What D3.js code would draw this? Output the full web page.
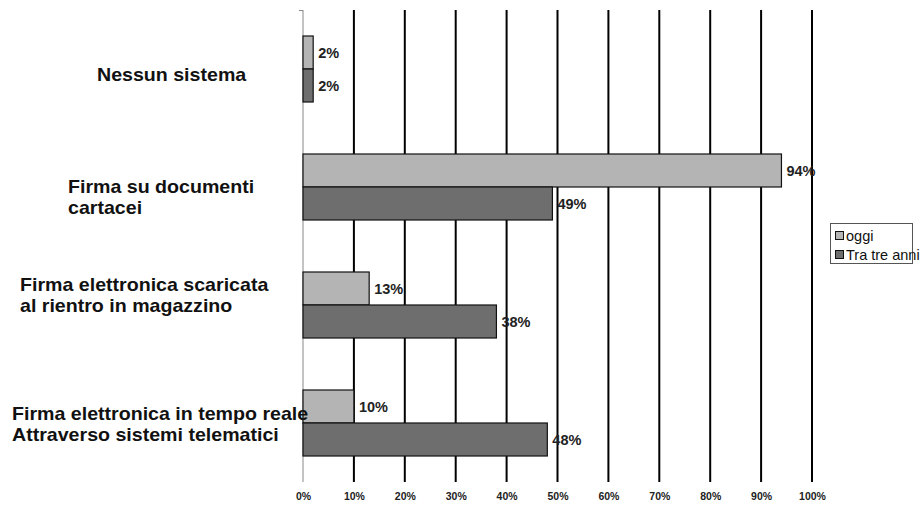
<!DOCTYPE html>
<html>
<head>
<meta charset="utf-8">
<script src="https://cdn.jsdelivr.net/npm/d3@7"></script>
<style>
  html, body { margin: 0; padding: 0; background: #fff; }
  svg { display: block; font-family: "Liberation Sans", Arial, sans-serif; }
</style>
</head>
<body>
<svg id="chart" width="923" height="506"></svg>
<script>
// Categories, top to bottom
const categories = [
  "Nessun sistema",
  "Firma su documenti cartacei",
  "Firma elettronica scaricata al rientro in magazzino",
  "Firma elettronica in tempo reale Attraverso sistemi telematici"
];
// Label lines as shown beside each group
const categoryLines = [
  ["Nessun sistema"],
  ["Firma su documenti", "cartacei"],
  ["Firma elettronica scaricata", "al rientro in magazzino"],
  ["Firma elettronica in tempo reale", "Attraverso sistemi telematici"]
];
const seriesNames = ["oggi", "Tra tre anni"];
const oggi = [2, 94, 13, 10];
const traTreAnni = [2, 49, 38, 48];
const tickValues = [0, 10, 20, 30, 40, 50, 60, 70, 80, 90, 100];

const colors = ["#b4b4b4", "#6e6e6e"];
const svg = d3.select("#chart");

const x = d3.scaleLinear().domain([0, 100]).range([303, 812]);
const y = d3.scaleBand().domain(categories).range([10, 482]).paddingInner(0).paddingOuter(0);
const inner = d3.scaleBand().domain(seriesNames).range([0, 66]);
const groupOffset = (y.bandwidth() - 66) / 2;

// Vertical gridlines
svg.append("g").selectAll("line")
  .data(tickValues.filter(d => d > 0))
  .join("line")
  .attr("x1", d => x(d)).attr("x2", d => x(d))
  .attr("y1", 10).attr("y2", 482)
  .attr("stroke", "#000").attr("stroke-width", 2);

// Category axis line
svg.append("line")
  .attr("x1", x(0)).attr("x2", x(0)).attr("y1", 10).attr("y2", 482)
  .attr("stroke", "#888").attr("stroke-width", 1);
svg.append("line")
  .attr("x1", x(0) - 4).attr("x2", x(0)).attr("y1", 10.5).attr("y2", 10.5)
  .attr("stroke", "#888").attr("stroke-width", 1);

// Bars
const rows = categories.map((c, i) => ({ cat: c, vals: [oggi[i], traTreAnni[i]] }));
const groups = svg.append("g").selectAll("g")
  .data(rows).join("g")
  .attr("transform", d => `translate(0,${y(d.cat) + groupOffset})`);

groups.selectAll("rect")
  .data(d => d.vals.map((v, j) => ({ v, s: seriesNames[j], j })))
  .join("rect")
  .attr("x", x(0))
  .attr("y", d => inner(d.s))
  .attr("width", d => x(d.v) - x(0))
  .attr("height", inner.bandwidth())
  .attr("fill", d => colors[d.j])
  .attr("stroke", "#111").attr("stroke-width", 1.2);

// Value labels
groups.selectAll("text")
  .data(d => d.vals.map((v, j) => ({ v, s: seriesNames[j], j })))
  .join("text")
  .attr("x", d => x(d.v) + 5)
  .attr("y", d => inner(d.s) + inner.bandwidth() / 2)
  .attr("dy", "0.36em")
  .attr("font-size", 14.5).attr("font-weight", "bold").attr("fill", "#222")
  .text(d => d.v + "%");

// Category labels
const labelPos = [
  { x: 97, y: 81 },
  { x: 68, y: 193 },
  { x: 20, y: 291 },
  { x: 12, y: 420 }
];
categoryLines.forEach((lines, i) => {
  const t = svg.append("text")
    .attr("font-size", 18.5).attr("font-weight", "bold").attr("fill", "#111")
    .attr("transform", `translate(${labelPos[i].x},${labelPos[i].y}) scale(1.06,1)`);
  lines.forEach((ln, k) => {
    t.append("tspan").attr("x", 0).attr("y", k * 21).text(ln);
  });
});

// Value axis tick labels
const axis = d3.axisBottom(x).tickValues(tickValues).tickSize(0).tickFormat(d => d + "%");
const ax = svg.append("g").attr("transform", "translate(0,490)").call(axis);
ax.select(".domain").remove();
ax.selectAll("text")
  .attr("font-size", 10.5).attr("font-weight", "bold").attr("fill", "#222")
  .attr("font-family", "'Liberation Sans', Arial, sans-serif");

// Legend
const legend = svg.append("g");
legend.append("rect")
  .attr("x", 830.5).attr("y", 223.5).attr("width", 82).attr("height", 40)
  .attr("fill", "#fff").attr("stroke", "#555").attr("stroke-width", 1);
seriesNames.forEach((name, j) => {
  const ly = 236 + j * 19;
  legend.append("rect")
    .attr("x", 835.5).attr("y", ly - 4.5).attr("width", 8).attr("height", 8)
    .attr("fill", colors[j]).attr("stroke", "#111").attr("stroke-width", 1);
  legend.append("text")
    .attr("x", 846).attr("y", ly).attr("dy", "0.35em")
    .attr("font-size", 14.5).attr("fill", "#111")
    .text(name);
});
</script>
</body>
</html>
